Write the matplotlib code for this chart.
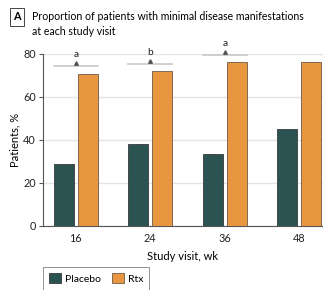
import matplotlib
matplotlib.use('Agg')
import matplotlib.pyplot as plt
import numpy as np

# data
visits = ['16', '24', '36', '48']
placebo = [28.8, 38.3, 33.3, 45.1]
rtx = [70.8, 72.2, 76.1, 76.1]
sig_labels = ['a', 'b', 'a']
sig_levels = [74.4, 75.5, 79.5]

plt.rcParams['font.family'] = ['Lato', 'DejaVu Sans']
fs = 7.8

col_pl = '#2b5351'
col_rx = '#e8963f'

fig = plt.figure(figsize=(3.23, 2.90), dpi=100)
ax = fig.add_axes([0.133, 0.221, 0.867, 0.593])

ind = np.arange(len(visits))
width = 0.27
off = 0.16
ax.bar(ind - off, placebo, width, color=col_pl, edgecolor='#3a3a3a', linewidth=0.6, zorder=3, label='Placebo')
ax.bar(ind + off, rtx, width, color=col_rx, edgecolor='#6b5a48', linewidth=0.6, zorder=3, label='Rtx')

ax.set_xlim(-0.443, 3.32)
ax.set_ylim(0, 80)
ax.set_yticks([0, 20, 40, 60, 80])
ax.set_xticks(ind)
ax.set_xticklabels(visits)
ax.yaxis.grid(True, color='#e4e4e4', linewidth=1.0, zorder=0)
ax.set_axisbelow(True)
for s in ['top', 'right']:
    ax.spines[s].set_visible(False)
for s in ['left', 'bottom']:
    ax.spines[s].set_color('#555555')
    ax.spines[s].set_linewidth(0.8)
ax.tick_params(axis='x', length=0, labelsize=fs, pad=5, colors='#222222')
ax.tick_params(axis='y', length=3, width=0.8, labelsize=fs, pad=2, colors='#555555', labelcolor='#222222')
ax.set_ylabel('Patients, %', fontsize=fs + 0.2, labelpad=2)
ax.set_xlabel('Study visit, wk', fontsize=fs + 0.2, labelpad=5.5)

# significance markers
for i, (lab, lev) in enumerate(zip(sig_labels, sig_levels)):
    ax.plot([i - off - width / 2, i + off + width / 2], [lev, lev], color='#c8c8c8', linewidth=1.2, clip_on=False, zorder=4)
    ax.plot(i, lev + 1.2, marker='^', color='#555555', markersize=2.6, clip_on=False, zorder=5)
    ax.text(i, lev + 3.3, lab, ha='center', va='bottom', fontsize=fs - 0.4, color='#222222')

# panel title
fig.text(0.040, 0.942, 'A', fontsize=fs, fontweight='bold', ha='left', va='center',
         bbox=dict(boxstyle='square,pad=0.3', fc='white', ec='#444444', lw=0.7))
fig.text(0.099, 0.942, 'Proportion of patients with minimal disease manifestations', fontsize=7.6, ha='left', va='center')
fig.text(0.099, 0.890, 'at each study visit', fontsize=7.6, ha='left', va='center')

leg = fig.legend(loc='upper left', bbox_to_anchor=(0.133, 0.079), ncol=2, fontsize=fs - 0.3,
                 frameon=True, fancybox=False, edgecolor='#777777', handlelength=1.1, handleheight=1.1,
                 columnspacing=1.1, borderpad=0.6, handletextpad=0.4, borderaxespad=0)
leg.get_frame().set_linewidth(0.7)

fig.savefig('out.png', dpi=100)
